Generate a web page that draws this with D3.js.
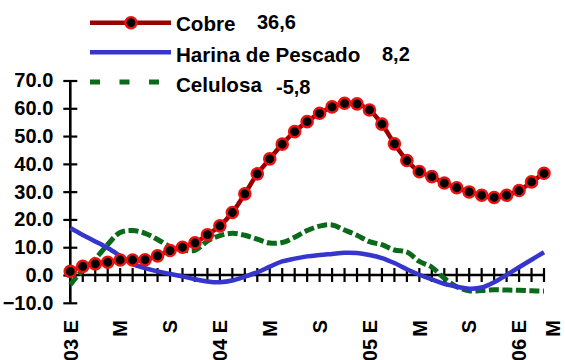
<!DOCTYPE html>
<html>
<head>
<meta charset="utf-8">
<script src="https://cdn.jsdelivr.net/npm/d3@7"></script>
<style>
  html, body { margin: 0; padding: 0; background: #fff; }
  svg { display: block; font-family: "Liberation Sans", Arial, sans-serif; font-weight: bold; }
</style>
</head>
<body>
<svg id="chart" width="565" height="360"></svg>
<script>
// Months: Jan 2003 .. Mar 2006 (index 0..38)
const months = d3.range(39);

const cobre = [1.3, 3.1, 4.0, 4.6, 5.4, 5.4, 5.5, 6.9, 8.8, 10.0,
  11.6, 14.5, 17.7, 22.5, 29.2, 36.4, 41.8, 47.1, 51.6, 55.2,
  58.2, 60.5, 61.8, 61.6, 59.4, 54.3, 47.2, 41.2, 37.2, 35.4,
  33.1, 31.4, 29.9, 28.7, 27.9, 28.7, 30.4, 33.5, 36.6];

const harina = [16.9, 14.4, 12.1, 9.7, 6.9, 4.0, 2.5, 1.3, 0.4, -0.5,
  -1.5, -2.3, -2.6, -2.0, -0.6, 1.0, 3.0, 4.9, 5.9, 6.7,
  7.2, 7.6, 8.0, 7.9, 7.2, 6.1, 4.3, 2.1, 0.1, -1.6,
  -3.2, -4.2, -4.9, -4.5, -2.6, 0.0, 2.8, 5.5, 8.2];

const celulosa = [-3.5, 1.8, 5.8, 11.0, 15.3, 16.0, 15.0, 12.8, 10.2, 9.0,
  8.9, 12.2, 14.2, 15.0, 14.3, 12.9, 11.5, 11.7, 13.6, 16.0,
  17.6, 18.0, 16.2, 14.3, 12.0, 10.9, 9.0, 8.3, 4.9, 2.8,
  -1.2, -4.2, -5.7, -5.6, -5.3, -5.4, -5.5, -5.7, -5.8];

const seriesNames = ["Cobre", "Harina de Pescado", "Celulosa"];
const seriesLast = ["36,6", "8,2", "-5,8"];

const yTicks = [-10, 0, 10, 20, 30, 40, 50, 60, 70];
const xLabelIdx = [0, 4, 8, 12, 16, 20, 24, 28, 32, 36, 40];
const xLabels = ["03 E", "M", "S", "04 E", "M", "S", "05 E", "M", "S", "06 E", "M"];

const W = 565, H = 360;
const svg = d3.select("#chart");

const x = d3.scaleLinear().domain([0, 38]).range([70.3, 544]);
const y = d3.scaleLinear().domain([-10, 70]).range([302.8, 80.5]);

const fs = 20;
const legFs = 20.6;

// Y axis
const yAxis = svg.append("g").attr("transform", `translate(${x(0)},0)`)
  .call(d3.axisLeft(y).tickValues(yTicks).tickFormat(d3.format(".1f")).tickSize(7).tickPadding(10));
yAxis.select(".domain").remove();
yAxis.selectAll(".tick line").attr("x1", -7).attr("x2", 7).attr("stroke", "#000").attr("stroke-width", 2.2);
yAxis.selectAll(".tick text").attr("x", -17).attr("font-size", fs).attr("font-weight", "bold")
  .attr("font-family", "'Liberation Sans', Arial, sans-serif").attr("fill", "#000");
yAxis.append("line").attr("x1", 0).attr("x2", 0).attr("y1", y(70)).attr("y2", y(-10))
  .attr("stroke", "#000").attr("stroke-width", 2.6);

// X axis at y = 0
const xg = svg.append("g");
xg.append("line").attr("x1", x(0)).attr("x2", x(38)).attr("y1", y(0)).attr("y2", y(0))
  .attr("stroke", "#000").attr("stroke-width", 2.6);
xg.selectAll("line.t").data(months).join("line").attr("class", "t")
  .attr("x1", d => x(d)).attr("x2", d => x(d))
  .attr("y1", y(0) - 7).attr("y2", y(0) + 7)
  .attr("stroke", "#000").attr("stroke-width", 2.2);
xg.selectAll("text").data(xLabelIdx).join("text")
  .attr("transform", d => `translate(${Math.min(x(d), W - 12)},320) rotate(-90)`)
  .attr("text-anchor", "end").attr("dy", "0.36em")
  .attr("font-size", fs).attr("fill", "#000")
  .text((d, i) => xLabels[i]);

// Lines
const line = data => d3.line()
  .x((d, i) => x(months[i])).y(d => y(d))
  .curve(d3.curveCatmullRom.alpha(0.5))(data);

svg.append("path").attr("d", line(celulosa)).attr("fill", "none")
  .attr("stroke", "#0a6a1a").attr("stroke-width", 5).attr("stroke-dasharray", "10,3.5");
svg.append("path").attr("d", line(harina)).attr("fill", "none")
  .attr("stroke", "#3636cc").attr("stroke-width", 4.5);
svg.append("path").attr("d", line(cobre)).attr("fill", "none")
  .attr("stroke", "#990000").attr("stroke-width", 4.5);
svg.selectAll("circle.m").data(cobre).join("circle").attr("class", "m")
  .attr("cx", (d, i) => x(months[i])).attr("cy", d => y(d))
  .attr("r", 5.6).attr("fill", "#000").attr("stroke", "#ee1111").attr("stroke-width", 2.4);

// Legend
const lg = svg.append("g");
const legY = [22.7, 52.3, 82];
const textBase = [31, 61.5, 91.5];
const valBase = [28.5, 61, 94];
const valX = [257, 382, 276];
lg.append("line").attr("x1", 90).attr("x2", 171).attr("y1", legY[0]).attr("y2", legY[0])
  .attr("stroke", "#990000").attr("stroke-width", 4.5);
lg.append("circle").attr("cx", 131).attr("cy", legY[0]).attr("r", 5.6)
  .attr("fill", "#000").attr("stroke", "#ee1111").attr("stroke-width", 2.4);
lg.append("line").attr("x1", 90).attr("x2", 171).attr("y1", legY[1]).attr("y2", legY[1])
  .attr("stroke", "#3636cc").attr("stroke-width", 4.5);
lg.append("line").attr("x1", 90).attr("x2", 171).attr("y1", legY[2]).attr("y2", legY[2])
  .attr("stroke", "#0a6a1a").attr("stroke-width", 5).attr("stroke-dasharray", "10,19.5");
seriesNames.forEach((n, i) => {
  lg.append("text").attr("x", 176).attr("y", textBase[i]).attr("font-size", legFs).attr("fill", "#000").text(n);
  lg.append("text").attr("x", valX[i]).attr("y", valBase[i]).attr("font-size", fs).attr("fill", "#000").text(seriesLast[i]);
});
</script>
</body>
</html>
